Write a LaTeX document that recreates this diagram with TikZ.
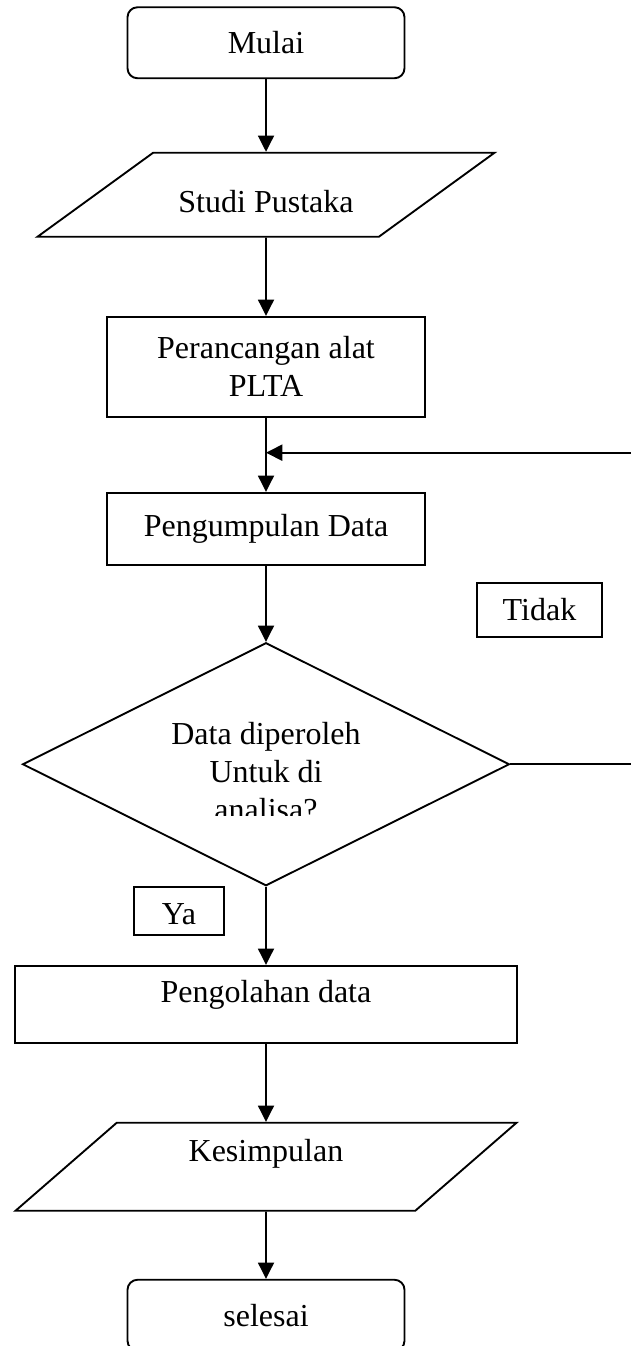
\documentclass[tikz,border=0pt]{standalone}
\usepackage{fontspec}
\setmainfont{Liberation Serif}
\usetikzlibrary{positioning,shapes.geometric,arrows.meta}

\begin{document}
\begin{tikzpicture}[auto,line width=0.75pt,>={Triangle[length=6.5pt,width=6.4pt]},
    every node/.style={on grid,font=\fontsize{12.8}{15.2}\selectfont},
    terminal/.style={draw,rounded corners=4pt,minimum width=110.8pt,minimum height=28.4pt},
    proses/.style={draw,minimum width=127.2pt,inner sep=0pt},
    masukan/.style={draw,trapezium,trapezium stretches body,inner xsep=2pt},
    keputusan/.style={draw,diamond,minimum width=194.8pt,minimum height=97.2pt,inner sep=0pt},
    keterangan/.style={draw,inner sep=0pt}]
    \useasboundingbox (0,0) rectangle (252pt,-538.4pt);
    \node[terminal] (mulai) at (106.4pt,-17.1pt) {Mulai};
    \node[masukan,below of=mulai,node distance=60.8pt,trapezium left angle=36,trapezium right angle=144,
      minimum width=182.8pt,text height=16.8pt,text depth=2.8pt,inner ysep=7pt] (studi) {Studi Pustaka};
    \node[proses,below of=studi,node distance=68.8pt,minimum height=40pt,align=center] (rancang) {Perancangan alat\\PLTA};
    \node[proses,below of=rancang,node distance=64.8pt,minimum height=28.8pt] (kumpul) {Pengumpulan Data};
    \node[keputusan,below of=kumpul,node distance=94.2pt] (cek) {};
    \node[proses,below of=cek,node distance=96pt,minimum width=200.8pt,minimum height=30.8pt,
      text depth=10.3pt] (olah) {Pengolahan data};
    \node[masukan,below of=olah,node distance=65pt,trapezium left angle=41,trapezium right angle=139,
      minimum width=200.4pt,text height=8.8pt,text depth=13.2pt,inner ysep=6.6pt] (simpul) {Kesimpulan};
    \node[terminal,below of=simpul,node distance=59.4pt] (selesai) {selesai};
    % keterangan cabang
    \node[keterangan,above right=61.8pt and 109.4pt of cek,minimum width=50pt,minimum height=21.6pt] (tidak) {Tidak};
    \node[keterangan,below left=58.6pt and 34.8pt of cek,minimum width=36pt,minimum height=19.2pt,
      text height=14pt,text depth=2.8pt] (ya) {Ya};
    \begin{scope}
      \clip (cek.north -| cek.west) rectangle ([yshift=-20.6pt]cek.east);
      \node[align=center] (tanya) at ([yshift=-2.8pt]cek.center) {Data diperoleh\\Untuk di\\analisa?};
    \end{scope}
    \coordinate (masuk) at ([yshift=-14pt]rancang.south);
    \draw[->] (mulai) -- (studi);
    \draw[->] (studi) -- (rancang);
    \draw[->] (rancang) -- (kumpul);
    \draw[->] (kumpul) -- (cek);
    \draw[->] (cek) -- (olah);
    \draw[->] (olah) -- (simpul);
    \draw[->] (simpul) -- (selesai);
    \draw[->] (cek.east) -- ++(60pt,0) |- (masuk);
\end{tikzpicture}
\end{document}
